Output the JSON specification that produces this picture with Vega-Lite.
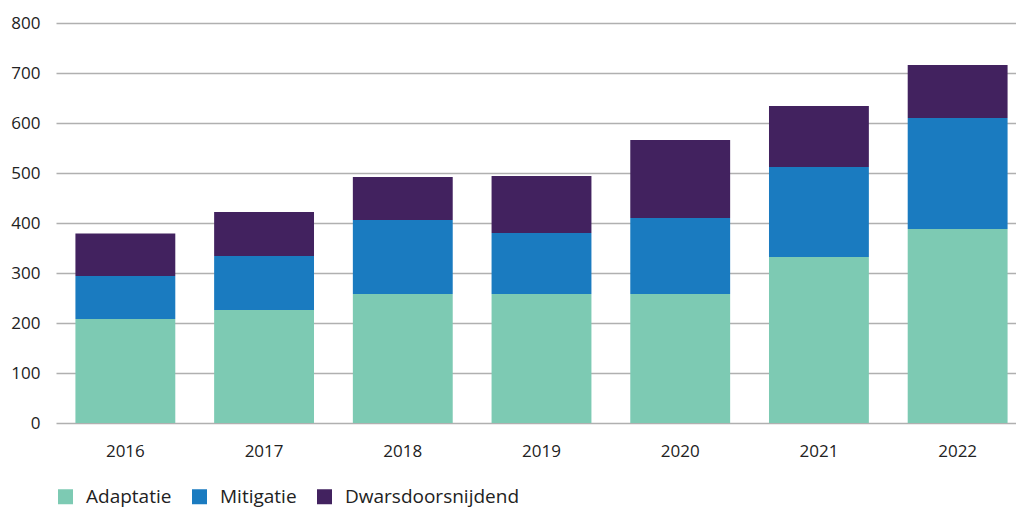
{
  "$schema": "https://vega.github.io/schema/vega-lite/v6.json",
  "width": 971,
  "height": 400,
  "autosize": {"type": "none"},
  "padding": {"left": 56, "top": 23, "right": 0, "bottom": 86},
  "background": "white",
  "config": {
    "view": {"stroke": null},
    "font": "Open Sans",
    "axis": {"labelFont": "Open Sans", "labelColor": "#222222", "labelFontSize": 17, "gridColor": "#b0b0b0", "gridWidth": 1.5, "domain": false, "ticks": false}
  },
  "data": {
    "values": [
      {"jaar": "2016", "categorie": "Adaptatie", "k": 1, "waarde": 208},
      {"jaar": "2016", "categorie": "Mitigatie", "k": 2, "waarde": 86},
      {"jaar": "2016", "categorie": "Dwarsdoorsnijdend", "k": 3, "waarde": 85},
      {"jaar": "2017", "categorie": "Adaptatie", "k": 1, "waarde": 226},
      {"jaar": "2017", "categorie": "Mitigatie", "k": 2, "waarde": 108},
      {"jaar": "2017", "categorie": "Dwarsdoorsnijdend", "k": 3, "waarde": 88},
      {"jaar": "2018", "categorie": "Adaptatie", "k": 1, "waarde": 258},
      {"jaar": "2018", "categorie": "Mitigatie", "k": 2, "waarde": 148},
      {"jaar": "2018", "categorie": "Dwarsdoorsnijdend", "k": 3, "waarde": 86},
      {"jaar": "2019", "categorie": "Adaptatie", "k": 1, "waarde": 258},
      {"jaar": "2019", "categorie": "Mitigatie", "k": 2, "waarde": 122},
      {"jaar": "2019", "categorie": "Dwarsdoorsnijdend", "k": 3, "waarde": 114},
      {"jaar": "2020", "categorie": "Adaptatie", "k": 1, "waarde": 258},
      {"jaar": "2020", "categorie": "Mitigatie", "k": 2, "waarde": 152},
      {"jaar": "2020", "categorie": "Dwarsdoorsnijdend", "k": 3, "waarde": 156},
      {"jaar": "2021", "categorie": "Adaptatie", "k": 1, "waarde": 332},
      {"jaar": "2021", "categorie": "Mitigatie", "k": 2, "waarde": 180},
      {"jaar": "2021", "categorie": "Dwarsdoorsnijdend", "k": 3, "waarde": 122},
      {"jaar": "2022", "categorie": "Adaptatie", "k": 1, "waarde": 388},
      {"jaar": "2022", "categorie": "Mitigatie", "k": 2, "waarde": 222},
      {"jaar": "2022", "categorie": "Dwarsdoorsnijdend", "k": 3, "waarde": 106}
    ]
  },
  "mark": {"type": "bar"},
  "encoding": {
    "x": {
      "field": "jaar", "type": "nominal", "title": null,
      "scale": {"paddingInner": 0.28, "paddingOuter": 0.14},
      "axis": {"labelAngle": 0, "labelPadding": 20, "grid": false}
    },
    "y": {
      "field": "waarde", "type": "quantitative", "stack": "zero", "title": null,
      "scale": {"domain": [0, 800]},
      "axis": {"values": [0, 100, 200, 300, 400, 500, 600, 700, 800], "labelPadding": 16, "grid": true}
    },
    "color": {
      "field": "categorie", "type": "nominal",
      "scale": {"domain": ["Adaptatie", "Mitigatie", "Dwarsdoorsnijdend"], "range": ["#7dcab3", "#1a7bc0", "#42225f"]},
      "legend": {
        "title": null, "orient": "none", "direction": "horizontal", "legendX": 0, "legendY": 464,
        "symbolType": "square", "symbolSize": 225, "symbolStrokeWidth": 0, "symbolOpacity": 1,
        "labelFontSize": 19, "labelColor": "#222222", "labelFont": "Open Sans", "labelOffset": 11, "labelLimit": 0, "columnPadding": 18
      }
    },
    "order": {"field": "k", "type": "quantitative", "sort": "ascending"}
  }
}
